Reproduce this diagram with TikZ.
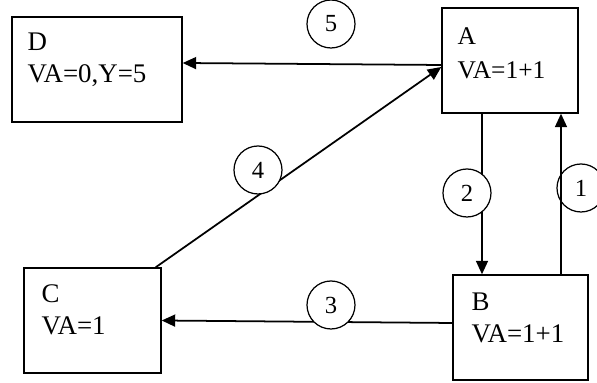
\documentclass[tikz,border=0pt]{standalone}
\usepackage{fontspec}
\setmainfont{Liberation Serif}
\usetikzlibrary{arrows.meta}
\begin{document}
\begin{tikzpicture}[
  box/.style={draw,line width=0.8pt,minimum height=2.1cm,inner sep=0pt},
  txt/.style={anchor=north west,align=left,inner sep=0pt,font=\fontsize{15.3}{18.2}\selectfont},
  num/.style={draw,circle,fill=white,line width=0.7pt,minimum size=0.96cm,inner sep=0pt,font=\fontsize{14}{16}\selectfont},
  arr/.style={line width=1pt,-{Triangle[length=2.7mm,width=2.4mm]}}]
\useasboundingbox (0,0) rectangle (11.94,7.66);
\node[box,minimum width=3.4cm] (D) at (1.94,6.27) {};
\node[box,minimum width=2.72cm] (A) at (10.2,6.45) {};
\node[box,minimum width=2.74cm] (C) at (1.85,1.25) {};
\node[box,minimum width=2.7cm] (B) at (10.41,1.11) {};
\node[txt] (Dt) at ([xshift=0.32cm,yshift=-0.32cm]D.north west) {D\\VA=0,Y=5};
\node[txt,font=\fontsize{14.5}{19.4}\selectfont] (At) at ([xshift=0.32cm,yshift=-0.4cm]A.north west) {A\\VA=1+1};
\node[txt] (Ct) at ([xshift=0.36cm,yshift=-0.34cm]C.north west) {C\\VA=1};
\node[txt] (Bt) at ([xshift=0.38cm,yshift=-0.36cm]B.north west) {B\\VA=1+1};

\draw[arr] ([yshift=-0.09cm]A.west) -- ([yshift=0.13cm]D.east);
\draw[arr] ([xshift=-0.12cm]C.north east) -- ([yshift=-0.13cm]A.west);
\draw[arr] ([xshift=-0.56cm]A.south) -- ([xshift=-0.56cm]A.south |- B.north);
\draw[arr] ([yshift=0.09cm]B.west) -- (C.east);

\node[num] (n5) at (6.62,7.18) {5};
\node[num] (n4) at (5.16,4.26) {4};
\node[num] (n2) at (9.34,3.8) {2};
\node[num] (n1) at (11.62,3.9) {1};
\node[num] (n3) at (6.62,1.56) {3};

\draw[arr] ([xshift=0.81cm]B.north) -- ([xshift=0.81cm]B.north |- A.south);
\end{tikzpicture}
\end{document}
